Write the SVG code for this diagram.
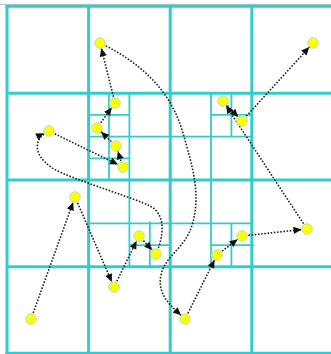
<svg xmlns="http://www.w3.org/2000/svg" width="331" height="354" viewBox="0 0 331 354">
<style>
.thick{stroke:#33cccc;stroke-width:3;fill:none}
.thin{stroke:#33cccc;stroke-width:1.8;fill:none}
.edge{stroke:#222;stroke-width:1.6;stroke-dasharray:1.6 1.6;fill:none;marker-end:url(#arr)}
.node{fill:#ffff00;stroke:#a8e6c0;stroke-width:1}
</style>
<defs>
<marker id="arr" markerUnits="userSpaceOnUse" orient="auto" overflow="visible" markerWidth="1" markerHeight="1" refX="0" refY="0">
<path d="M-5.5,0 L-13.5,-3.6 L-13.5,3.6 Z" fill="#111"/>
</marker>
</defs>
<rect width="331" height="354" fill="#fff"/>
<line x1="0" y1="4.3" x2="331" y2="4.3" stroke="#bbbbbb" stroke-width="1"/>
<g id="grid">
<line class="thick" x1="7" y1="5" x2="7" y2="355"/>
<line class="thick" x1="88.6" y1="6.3" x2="88.6" y2="353.5"/>
<line class="thick" x1="170.2" y1="6.3" x2="170.2" y2="353.5"/>
<line class="thick" x1="251.8" y1="6.3" x2="251.8" y2="353.5"/>
<line class="thick" x1="5.5" y1="6.3" x2="334" y2="6.3"/>
<line class="thick" x1="7" y1="93.2" x2="334" y2="93.2"/>
<line class="thick" x1="7" y1="180" x2="334" y2="180"/>
<line class="thick" x1="7" y1="266.8" x2="334" y2="266.8"/>
<line class="thick" x1="5.5" y1="353.2" x2="334" y2="353.2"/>
<line class="thin" x1="129.4" y1="93.2" x2="129.4" y2="180"/>
<line class="thin" x1="88.6" y1="136.6" x2="170.2" y2="136.6"/>
<line class="thin" x1="109" y1="93.2" x2="109" y2="180"/>
<line class="thin" x1="88.6" y1="114.9" x2="129.4" y2="114.9"/>
<line class="thin" x1="88.6" y1="158.3" x2="129.4" y2="158.3"/>
<line class="thin" x1="211" y1="93.2" x2="211" y2="180"/>
<line class="thin" x1="170.2" y1="136.6" x2="251.8" y2="136.6"/>
<line class="thin" x1="231.4" y1="93.2" x2="231.4" y2="136.6"/>
<line class="thin" x1="211" y1="114.9" x2="251.8" y2="114.9"/>
<line class="thin" x1="129.4" y1="180" x2="129.4" y2="266.8"/>
<line class="thin" x1="88.6" y1="223.4" x2="170.2" y2="223.4"/>
<line class="thin" x1="149.8" y1="221.5" x2="149.8" y2="266.8"/>
<line class="thin" x1="129.4" y1="245.1" x2="170.2" y2="245.1"/>
<line class="thin" x1="211" y1="180" x2="211" y2="266.8"/>
<line class="thin" x1="170.2" y1="223.4" x2="251.8" y2="223.4"/>
<line class="thin" x1="231.4" y1="223.4" x2="231.4" y2="266.8"/>
<line class="thin" x1="211" y1="245.1" x2="254" y2="245.1"/>
</g>
<g id="connectors">
<line class="edge" x1="31" y1="319" x2="75" y2="197"/>
<line class="edge" x1="75" y1="197" x2="114" y2="287"/>
<line class="edge" x1="114" y1="287" x2="139" y2="236"/>
<line class="edge" x1="139" y1="236" x2="156" y2="254"/>
<path class="edge" d="M156,254 C164,236 166,214 150,206 S90,185 62,173 S30,140 49,131"/>
<line class="edge" x1="49" y1="131" x2="123" y2="167"/>
<line class="edge" x1="123" y1="167" x2="116" y2="146"/>
<line class="edge" x1="116" y1="146" x2="97" y2="128"/>
<line class="edge" x1="97" y1="128" x2="115" y2="103"/>
<line class="edge" x1="115" y1="103" x2="100" y2="43"/>
<path class="edge" d="M100,43 C140,62 170,90 182,130 S200,195 193,222 S165,255 161,275 S170,305 185,319"/>
<line class="edge" x1="185" y1="319" x2="217" y2="255"/>
<line class="edge" x1="217" y1="255" x2="242" y2="236"/>
<line class="edge" x1="242" y1="236" x2="307" y2="229"/>
<line class="edge" x1="307" y1="229" x2="223" y2="101"/>
<line class="edge" x1="223" y1="101" x2="242" y2="121"/>
<line class="edge" x1="242" y1="121" x2="313" y2="43"/>
</g>
<g id="n1"><circle class="node" cx="100" cy="43" r="5.3"/></g>
<g id="n2"><circle class="node" cx="313" cy="43" r="5.3"/></g>
<g id="n3"><circle class="node" cx="115" cy="103" r="5.3"/></g>
<g id="n4"><circle class="node" cx="97" cy="128" r="5.3"/></g>
<g id="n5"><circle class="node" cx="116" cy="146" r="5.3"/></g>
<g id="n6"><circle class="node" cx="123" cy="167" r="5.3"/></g>
<g id="n7"><circle class="node" cx="49" cy="131" r="5.3"/></g>
<g id="n8"><circle class="node" cx="223" cy="101" r="5.3"/></g>
<g id="n9"><circle class="node" cx="242" cy="121" r="5.3"/></g>
<g id="n10"><circle class="node" cx="75" cy="197" r="5.3"/></g>
<g id="n11"><circle class="node" cx="31" cy="319" r="5.3"/></g>
<g id="n12"><circle class="node" cx="139" cy="236" r="5.3"/></g>
<g id="n13"><circle class="node" cx="156" cy="254" r="5.3"/></g>
<g id="n14"><circle class="node" cx="114" cy="287" r="5.3"/></g>
<g id="n15"><circle class="node" cx="242" cy="236" r="5.3"/></g>
<g id="n16"><circle class="node" cx="307" cy="229" r="5.3"/></g>
<g id="n17"><circle class="node" cx="217" cy="255" r="5.3"/></g>
<g id="n18"><circle class="node" cx="185" cy="319" r="5.3"/></g>
</svg>
